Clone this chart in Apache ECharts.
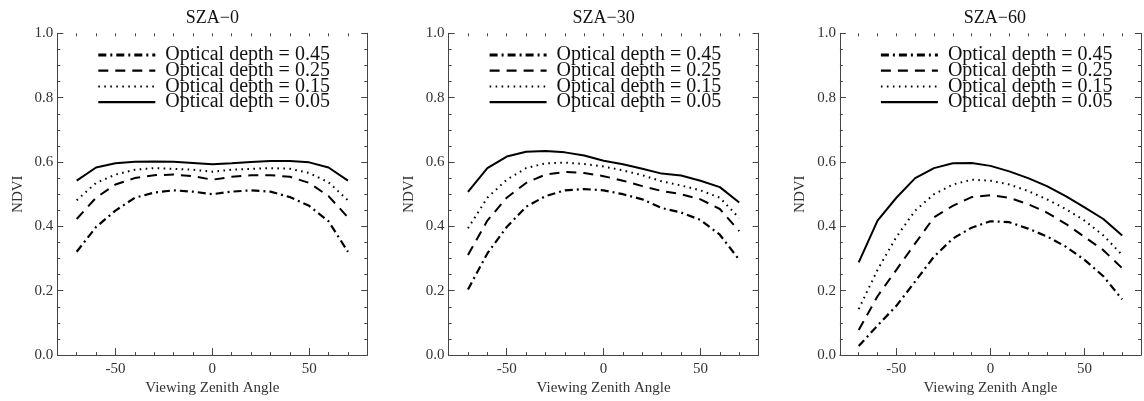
<!DOCTYPE html>
<html>
<head>
<meta charset="utf-8">
<script src="https://cdn.jsdelivr.net/npm/echarts@6/dist/echarts.min.js"></script>
<style>
  html, body { margin: 0; padding: 0; background: #fff; }
  #chart { width: 1144px; height: 401px; }
</style>
</head>
<body>
<div id="chart"></div>
<script>
// viewing zenith angles (deg)
const angles = [-70, -60, -50, -40, -30, -20, -10, 0, 10, 20, 30, 40, 50, 60, 70];
const depthNames = ['Optical depth = 0.45', 'Optical depth = 0.25', 'Optical depth = 0.15', 'Optical depth = 0.05'];
const panelTitles = ['SZA\u22120', 'SZA\u221230', 'SZA\u221260'];
const xLabels = [-50, 0, 50];

// SZA 0
const sza0_d45 = [0.321, 0.398, 0.449, 0.489, 0.505, 0.512, 0.508, 0.500, 0.508, 0.512, 0.508, 0.491, 0.464, 0.416, 0.321];
const sza0_d25 = [0.423, 0.489, 0.530, 0.550, 0.559, 0.561, 0.556, 0.545, 0.554, 0.559, 0.559, 0.554, 0.535, 0.494, 0.428];
const sza0_d15 = [0.481, 0.535, 0.561, 0.576, 0.581, 0.579, 0.576, 0.570, 0.576, 0.579, 0.581, 0.579, 0.566, 0.537, 0.481];
const sza0_d05 = [0.542, 0.583, 0.596, 0.601, 0.602, 0.601, 0.597, 0.593, 0.596, 0.600, 0.603, 0.603, 0.599, 0.583, 0.542];
// SZA 30
const sza30_d45 = [0.204, 0.316, 0.398, 0.461, 0.494, 0.512, 0.516, 0.512, 0.500, 0.484, 0.457, 0.443, 0.420, 0.374, 0.296];
const sza30_d25 = [0.311, 0.418, 0.489, 0.535, 0.561, 0.569, 0.566, 0.556, 0.542, 0.525, 0.510, 0.500, 0.484, 0.454, 0.385];
const sza30_d15 = [0.394, 0.489, 0.545, 0.581, 0.596, 0.598, 0.594, 0.586, 0.574, 0.559, 0.540, 0.527, 0.512, 0.489, 0.426];
const sza30_d05 = [0.507, 0.581, 0.617, 0.632, 0.634, 0.630, 0.620, 0.604, 0.593, 0.579, 0.564, 0.558, 0.542, 0.522, 0.474];
// SZA 60
const sza60_d45 = [0.028, 0.092, 0.153, 0.229, 0.306, 0.362, 0.396, 0.416, 0.413, 0.393, 0.369, 0.337, 0.296, 0.245, 0.173];
const sza60_d25 = [0.078, 0.183, 0.265, 0.347, 0.428, 0.464, 0.491, 0.497, 0.489, 0.469, 0.443, 0.408, 0.367, 0.326, 0.270];
const sza60_d15 = [0.143, 0.265, 0.367, 0.449, 0.500, 0.530, 0.545, 0.542, 0.530, 0.510, 0.484, 0.454, 0.418, 0.372, 0.311];
const sza60_d05 = [0.288, 0.418, 0.489, 0.550, 0.581, 0.596, 0.597, 0.588, 0.571, 0.550, 0.525, 0.494, 0.459, 0.423, 0.372];

const panels = [
  [sza0_d45, sza0_d25, sza0_d15, sza0_d05],
  [sza30_d45, sza30_d25, sza30_d15, sza30_d05],
  [sza60_d45, sza60_d25, sza60_d15, sza60_d05]
];

const lineTypes = [[8, 4, 2, 4], [10, 7], [1.6, 4.4], 'solid'];
const lineWidths = [2.2, 2, 2, 2];
const legendWidths = [3, 2.2, 2, 2.2];

const font = 'Liberation Serif';
const axisColor = '#444';
const textColor = '#333';
const gridLefts = [57.3, 448.6, 839.9];
const gridWidth = 310;
const gridTop = 33.3;
const gridHeight = 326.7;

const chart = echarts.init(document.getElementById('chart'));

const grid = [], xAxis = [], yAxis = [], series = [], title = [], legend = [];

panels.forEach((panel, p) => {
  grid.push({ left: gridLefts[p], top: gridTop, width: gridWidth, height: gridHeight, containLabel: false });

  title.push({
    text: panelTitles[p],
    left: gridLefts[p] + gridWidth / 2,
    top: 9,
    padding: 0,
    textAlign: 'center',
    textStyle: { fontFamily: font, fontSize: 18, fontWeight: 'normal', color: '#111' }
  });

  // bottom axis: labels + minor ticks
  xAxis.push({
    type: 'value', gridIndex: p, position: 'bottom', min: -80, max: 80, interval: 10,
    name: 'Viewing Zenith Angle', nameLocation: 'middle', nameGap: 21,
    nameTextStyle: { fontFamily: font, fontSize: 15, color: textColor },
    axisLine: { show: true, onZero: false, lineStyle: { color: axisColor, width: 1 } },
    axisTick: { show: true, inside: true, length: 3, lineStyle: { color: axisColor } },
    axisLabel: {
      margin: 6, fontFamily: font, fontSize: 15, color: textColor,
      formatter: v => (xLabels.includes(v) ? String(v) : '')
    },
    splitLine: { show: false }
  });
  // bottom axis: major ticks
  xAxis.push({
    type: 'value', gridIndex: p, position: 'bottom', min: -80, max: 80,
    axisLine: { show: false, onZero: false },
    axisTick: { show: true, inside: true, length: 7, customValues: xLabels, lineStyle: { color: axisColor } },
    axisLabel: { show: false },
    splitLine: { show: false }
  });
  // top axis: ticks only
  xAxis.push({
    type: 'value', gridIndex: p, position: 'top', min: -80, max: 80, interval: 10,
    axisLine: { show: false, onZero: false },
    axisTick: { show: true, inside: true, length: 3, lineStyle: { color: axisColor } },
    axisLabel: { show: false },
    splitLine: { show: false }
  });

  yAxis.push({
    type: 'value', gridIndex: p, position: 'left', min: 0, max: 1, interval: 0.2,
    name: 'NDVI', nameLocation: 'middle', nameGap: 32,
    nameTextStyle: { fontFamily: font, fontSize: 15, color: textColor },
    axisLine: { show: true, onZero: false, lineStyle: { color: axisColor, width: 1 } },
    axisTick: { show: true, inside: true, length: 6, lineStyle: { color: axisColor } },
    minorTick: { show: true, splitNumber: 4, length: 3, lineStyle: { color: axisColor } },
    axisLabel: { margin: 4, fontFamily: font, fontSize: 15, color: textColor, formatter: v => v.toFixed(1) },
    splitLine: { show: false }
  });
  yAxis.push({
    type: 'value', gridIndex: p, position: 'right', min: 0, max: 1, interval: 0.2,
    axisLine: { show: true, onZero: false, lineStyle: { color: axisColor, width: 1 } },
    axisTick: { show: true, inside: true, length: 6, lineStyle: { color: axisColor } },
    minorTick: { show: true, splitNumber: 4, length: 3, lineStyle: { color: axisColor } },
    axisLabel: { show: false },
    splitLine: { show: false }
  });

  panel.forEach((vals, k) => {
    series.push({
      name: depthNames[k],
      type: 'line',
      xAxisIndex: p * 3,
      yAxisIndex: p * 2,
      data: angles.map((a, i) => [a, vals[i]]),
      symbol: 'none',
      smooth: false,
      lineStyle: { color: '#000', width: lineWidths[k], type: lineTypes[k], cap: 'butt' },
      itemStyle: { color: '#000' },
      emphasis: { disabled: true }
    });
  });

  legend.push({
    data: depthNames.map((n, k) => ({ name: n, lineStyle: { width: legendWidths[k] } })),
    orient: 'vertical',
    left: gridLefts[p] + 39.5,
    top: 45,
    padding: 0,
    itemGap: -4.3,
    itemWidth: 57,
    itemHeight: 2,
    selectedMode: false,
    itemStyle: { color: 'transparent', borderColor: 'transparent', borderWidth: 0, opacity: 0 },
    textStyle: { fontFamily: font, fontSize: 20, color: '#111', padding: [0, 0, 0, 5] }
  });
});

chart.setOption({
  animation: false,
  backgroundColor: '#fff',
  title, legend, grid, xAxis, yAxis, series
});
</script>
</body>
</html>
